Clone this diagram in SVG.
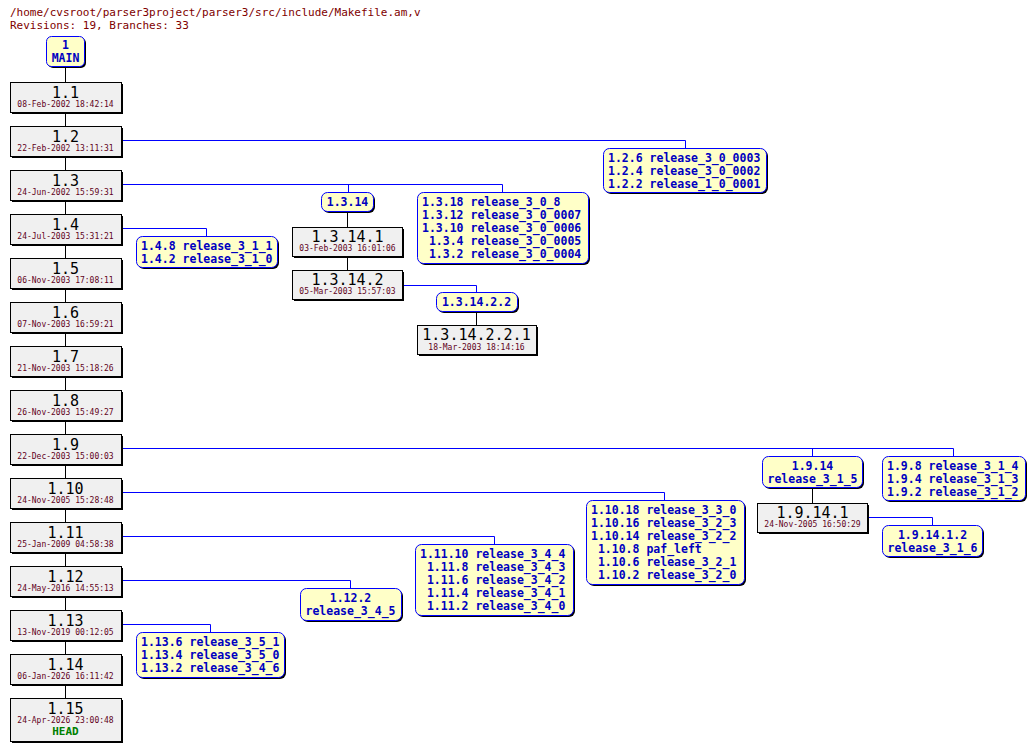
<svg xmlns="http://www.w3.org/2000/svg" width="1035" height="751" viewBox="0 0 1035 751">
<style>
text{white-space:pre}
.bg{fill:#fff}
.sh{fill:#000}
.rv{fill:#f0f0f0;stroke:#000;stroke-width:1}
.br{fill:#ffffc8;stroke:#0000ff;stroke-width:1}
.n{font-family:"DejaVu Sans Mono",monospace;font-size:15px;fill:#000;text-anchor:middle}
.d{font-family:"DejaVu Sans Mono",monospace;font-size:8px;fill:#600020;text-anchor:middle}
.b{font-family:"DejaVu Sans Mono",monospace;font-size:11.5px;font-weight:bold;fill:#0000c0}
.bc{text-anchor:middle}
.h{font-family:"DejaVu Sans Mono",monospace;font-size:11px;fill:#800000}
.hd{font-family:"DejaVu Sans Mono",monospace;font-size:11px;font-weight:bold;fill:#008000;text-anchor:middle}
.tk{stroke:#000;fill:none}
.bl{stroke:#0000ff;fill:none}
</style>
<rect class="bg" width="1035" height="751"/>
<text class="h" x="10" y="16">/home/cvsroot/parser3project/parser3/src/include/Makefile.am,v</text>
<text class="h" x="10" y="29">Revisions: 19, Branches: 33</text>
<g id="connectors">
<path class="tk" d="M65.5 66V698M347.5 211V270M476.5 311V325M812.5 487V503"/>
<path class="bl" d="M121 140.5H685.5V148M121 184.5H502.5V192M348.5 184V192M121 228.5H206.5V236M402 285.5H476.5V292M121 448.5H953.5V456M812.5 448V456M121 492.5H664.5V500M121 536.5H494.5V544M121 580.5H350.5V588M121 624.5H210.5V632M867 517.5H932.5V525"/>
</g>
<g id="main"><rect class="sh" x="48" y="38" width="38" height="30" rx="5"/><rect class="br" x="46.5" y="36.5" width="38" height="30" rx="5"/><text class="b bc" x="65.5" y="49">1</text><text class="b bc" x="65.5" y="62">MAIN</text></g>
<g id="revs">
<g id="r1_1"><rect class="sh" x="12" y="84" width="111" height="30"/><rect class="rv" x="10.5" y="82.5" width="111" height="30"/><text class="n" x="65.5" y="98">1.1</text><text class="d" x="65.5" y="107">08-Feb-2002 18:42:14</text></g>
<g id="r1_2"><rect class="sh" x="12" y="128" width="111" height="30"/><rect class="rv" x="10.5" y="126.5" width="111" height="30"/><text class="n" x="65.5" y="142">1.2</text><text class="d" x="65.5" y="151">22-Feb-2002 13:11:31</text></g>
<g id="r1_3"><rect class="sh" x="12" y="172" width="111" height="30"/><rect class="rv" x="10.5" y="170.5" width="111" height="30"/><text class="n" x="65.5" y="186">1.3</text><text class="d" x="65.5" y="195">24-Jun-2002 15:59:31</text></g>
<g id="r1_4"><rect class="sh" x="12" y="216" width="111" height="30"/><rect class="rv" x="10.5" y="214.5" width="111" height="30"/><text class="n" x="65.5" y="230">1.4</text><text class="d" x="65.5" y="239">24-Jul-2003 15:31:21</text></g>
<g id="r1_5"><rect class="sh" x="12" y="260" width="111" height="30"/><rect class="rv" x="10.5" y="258.5" width="111" height="30"/><text class="n" x="65.5" y="274">1.5</text><text class="d" x="65.5" y="283">06-Nov-2003 17:08:11</text></g>
<g id="r1_6"><rect class="sh" x="12" y="304" width="111" height="30"/><rect class="rv" x="10.5" y="302.5" width="111" height="30"/><text class="n" x="65.5" y="318">1.6</text><text class="d" x="65.5" y="327">07-Nov-2003 16:59:21</text></g>
<g id="r1_7"><rect class="sh" x="12" y="348" width="111" height="30"/><rect class="rv" x="10.5" y="346.5" width="111" height="30"/><text class="n" x="65.5" y="362">1.7</text><text class="d" x="65.5" y="371">21-Nov-2003 15:18:26</text></g>
<g id="r1_8"><rect class="sh" x="12" y="392" width="111" height="30"/><rect class="rv" x="10.5" y="390.5" width="111" height="30"/><text class="n" x="65.5" y="406">1.8</text><text class="d" x="65.5" y="415">26-Nov-2003 15:49:27</text></g>
<g id="r1_9"><rect class="sh" x="12" y="436" width="111" height="30"/><rect class="rv" x="10.5" y="434.5" width="111" height="30"/><text class="n" x="65.5" y="450">1.9</text><text class="d" x="65.5" y="459">22-Dec-2003 15:00:03</text></g>
<g id="r1_10"><rect class="sh" x="12" y="480" width="111" height="30"/><rect class="rv" x="10.5" y="478.5" width="111" height="30"/><text class="n" x="65.5" y="494">1.10</text><text class="d" x="65.5" y="503">24-Nov-2005 15:28:48</text></g>
<g id="r1_11"><rect class="sh" x="12" y="524" width="111" height="30"/><rect class="rv" x="10.5" y="522.5" width="111" height="30"/><text class="n" x="65.5" y="538">1.11</text><text class="d" x="65.5" y="547">25-Jan-2009 04:58:38</text></g>
<g id="r1_12"><rect class="sh" x="12" y="568" width="111" height="30"/><rect class="rv" x="10.5" y="566.5" width="111" height="30"/><text class="n" x="65.5" y="582">1.12</text><text class="d" x="65.5" y="591">24-May-2016 14:55:13</text></g>
<g id="r1_13"><rect class="sh" x="12" y="612" width="111" height="30"/><rect class="rv" x="10.5" y="610.5" width="111" height="30"/><text class="n" x="65.5" y="626">1.13</text><text class="d" x="65.5" y="635">13-Nov-2019 00:12:05</text></g>
<g id="r1_14"><rect class="sh" x="12" y="656" width="111" height="30"/><rect class="rv" x="10.5" y="654.5" width="111" height="30"/><text class="n" x="65.5" y="670">1.14</text><text class="d" x="65.5" y="679">06-Jan-2026 16:11:42</text></g>
<g id="r1_15"><rect class="sh" x="12" y="700" width="111" height="43"/><rect class="rv" x="10.5" y="698.5" width="111" height="43"/><text class="n" x="65.5" y="714">1.15</text><text class="d" x="65.5" y="723">24-Apr-2026 23:00:48</text><text class="hd" x="65.5" y="735">HEAD</text></g>
<g id="r1_3_14_1"><rect class="sh" x="294" y="229" width="110" height="29"/><rect class="rv" x="292.5" y="227.5" width="110" height="29"/><text class="n" x="347.5" y="242">1.3.14.1</text><text class="d" x="347.5" y="251">03-Feb-2003 16:01:06</text></g>
<g id="r1_3_14_2"><rect class="sh" x="294" y="272" width="110" height="29"/><rect class="rv" x="292.5" y="270.5" width="110" height="29"/><text class="n" x="347.5" y="285">1.3.14.2</text><text class="d" x="347.5" y="294">05-Mar-2003 15:57:03</text></g>
<g id="r1_3_14_2_2_1"><rect class="sh" x="419" y="327" width="119" height="29"/><rect class="rv" x="417.5" y="325.5" width="119" height="29"/><text class="n" x="476.5" y="340">1.3.14.2.2.1</text><text class="d" x="476.5" y="350">18-Mar-2003 18:14:16</text></g>
<g id="r1_9_14_1"><rect class="sh" x="759" y="505" width="110" height="29"/><rect class="rv" x="757.5" y="503.5" width="110" height="29"/><text class="n" x="812.5" y="518">1.9.14.1</text><text class="d" x="812.5" y="527">24-Nov-2005 16:50:29</text></g>
</g>
<g id="branches">
<g id="b1_2"><rect class="sh" x="605" y="150" width="163" height="44" rx="6"/><rect class="br" x="603.5" y="148.5" width="163" height="44" rx="6"/><text class="b" x="608" y="162">1.2.6 release_3_0_0003</text><text class="b" x="608" y="175">1.2.4 release_3_0_0002</text><text class="b" x="608" y="188">1.2.2 release_1_0_0001</text></g>
<g id="b1_3_14"><rect class="sh" x="323" y="194" width="52" height="19" rx="6"/><rect class="br" x="321.5" y="192.5" width="52" height="19" rx="6"/><text class="b bc" x="347.5" y="206">1.3.14</text></g>
<g id="b1_3r"><rect class="sh" x="419" y="194" width="171" height="71" rx="6"/><rect class="br" x="417.5" y="192.5" width="171" height="71" rx="6"/><text class="b" x="422" y="206">1.3.18 release_3_0_8</text><text class="b" x="422" y="219">1.3.12 release_3_0_0007</text><text class="b" x="422" y="232">1.3.10 release_3_0_0006</text><text class="b" x="422" y="245"> 1.3.4 release_3_0_0005</text><text class="b" x="422" y="258"> 1.3.2 release_3_0_0004</text></g>
<g id="b1_4"><rect class="sh" x="138" y="238" width="141" height="31" rx="6"/><rect class="br" x="136.5" y="236.5" width="141" height="31" rx="6"/><text class="b" x="141" y="250">1.4.8 release_3_1_1</text><text class="b" x="141" y="263">1.4.2 release_3_1_0</text></g>
<g id="b1_3_14_2_2"><rect class="sh" x="438" y="294" width="81" height="19" rx="6"/><rect class="br" x="436.5" y="292.5" width="81" height="19" rx="6"/><text class="b bc" x="476.5" y="306">1.3.14.2.2</text></g>
<g id="b1_9_14"><rect class="sh" x="764" y="458" width="100" height="31" rx="6"/><rect class="br" x="762.5" y="456.5" width="100" height="31" rx="6"/><text class="b bc" x="812.5" y="470">1.9.14</text><text class="b bc" x="812.5" y="483">release_3_1_5</text></g>
<g id="b1_9r"><rect class="sh" x="884" y="458" width="143" height="44" rx="6"/><rect class="br" x="882.5" y="456.5" width="143" height="44" rx="6"/><text class="b" x="887" y="470">1.9.8 release_3_1_4</text><text class="b" x="887" y="483">1.9.4 release_3_1_3</text><text class="b" x="887" y="496">1.9.2 release_3_1_2</text></g>
<g id="b1_9_14_1_2"><rect class="sh" x="884" y="527" width="100" height="31" rx="6"/><rect class="br" x="882.5" y="525.5" width="100" height="31" rx="6"/><text class="b bc" x="932.5" y="539">1.9.14.1.2</text><text class="b bc" x="932.5" y="552">release_3_1_6</text></g>
<g id="b1_10"><rect class="sh" x="588" y="502" width="158" height="84" rx="6"/><rect class="br" x="586.5" y="500.5" width="158" height="84" rx="6"/><text class="b" x="591" y="514">1.10.18 release_3_3_0</text><text class="b" x="591" y="527">1.10.16 release_3_2_3</text><text class="b" x="591" y="540">1.10.14 release_3_2_2</text><text class="b" x="591" y="553"> 1.10.8 paf_left</text><text class="b" x="591" y="566"> 1.10.6 release_3_2_1</text><text class="b" x="591" y="579"> 1.10.2 release_3_2_0</text></g>
<g id="b1_11"><rect class="sh" x="417" y="546" width="158" height="71" rx="6"/><rect class="br" x="415.5" y="544.5" width="158" height="71" rx="6"/><text class="b" x="420" y="558">1.11.10 release_3_4_4</text><text class="b" x="420" y="571"> 1.11.8 release_3_4_3</text><text class="b" x="420" y="584"> 1.11.6 release_3_4_2</text><text class="b" x="420" y="597"> 1.11.4 release_3_4_1</text><text class="b" x="420" y="610"> 1.11.2 release_3_4_0</text></g>
<g id="b1_12"><rect class="sh" x="302" y="590" width="101" height="32" rx="6"/><rect class="br" x="300.5" y="588.5" width="101" height="32" rx="6"/><text class="b bc" x="350.5" y="602">1.12.2</text><text class="b bc" x="350.5" y="615">release_3_4_5</text></g>
<g id="b1_13"><rect class="sh" x="138" y="634" width="148" height="45" rx="6"/><rect class="br" x="136.5" y="632.5" width="148" height="45" rx="6"/><text class="b" x="141" y="646">1.13.6 release_3_5_1</text><text class="b" x="141" y="659">1.13.4 release_3_5_0</text><text class="b" x="141" y="672">1.13.2 release_3_4_6</text></g>
</g>
</svg>
